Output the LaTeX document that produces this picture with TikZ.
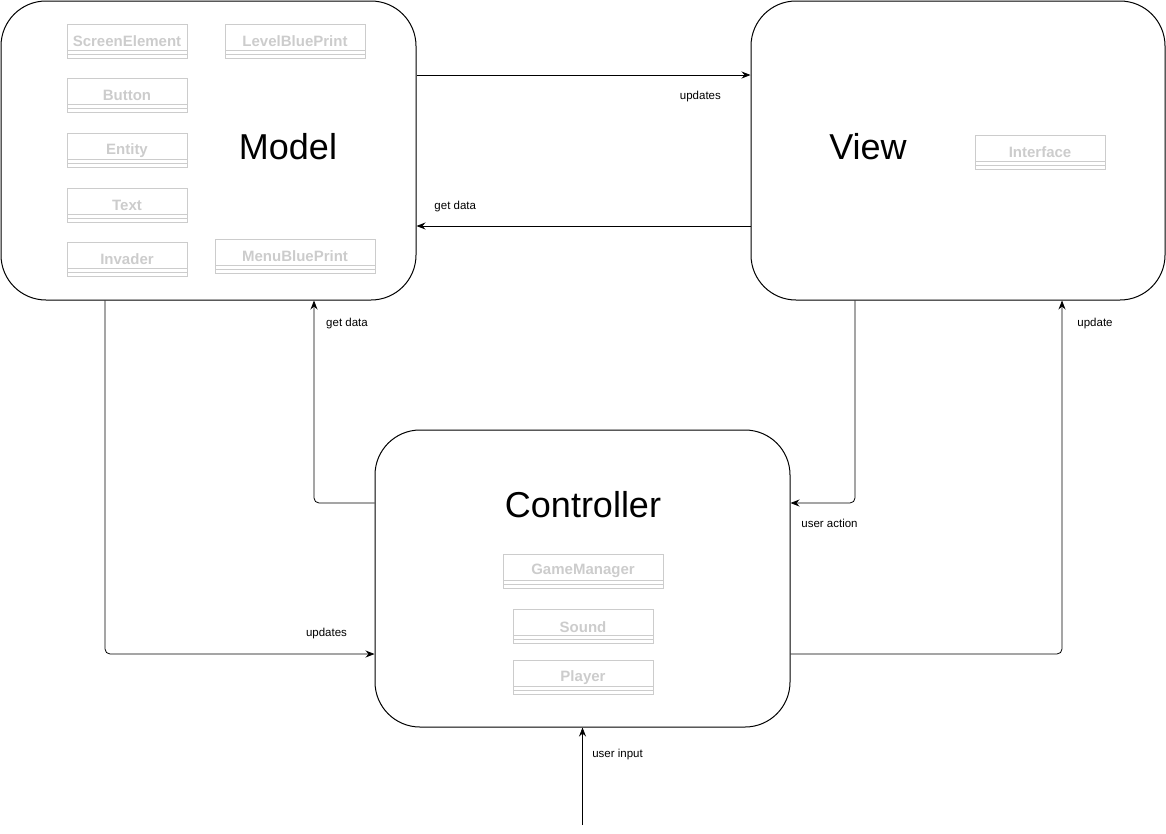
\documentclass[tikz,border=0pt]{standalone}
\usepackage{fontspec}
\setmainfont{Liberation Sans}
\usetikzlibrary{arrows.meta,positioning}

\begin{document}
\begin{tikzpicture}[x=1pt,y=-1pt,
    every node/.style={font=\fontsize{11.5}{13}\selectfont}]
  \tikzstyle{block}=[draw,line width=1pt,rounded corners=45pt,minimum width=415pt,minimum height=299pt,inner sep=0pt]
  \tikzstyle{title}=[font=\fontsize{36}{40}\selectfont,inner sep=0pt]
  \tikzstyle{cls}=[draw=gray!40,text=gray!40,line width=0.8pt,font=\bfseries\fontsize{15}{17}\selectfont,
    minimum height=34pt,inner sep=0pt,
    path picture={\draw[gray!40,line width=0.8pt]
      ([yshift=8pt]path picture bounding box.south west) -- ([yshift=8pt]path picture bounding box.south east)
      ([yshift=4pt]path picture bounding box.south west) -- ([yshift=4pt]path picture bounding box.south east);}]
  \tikzstyle{flow}=[-{Stealth[length=9pt,width=7pt,inset=3pt]},line width=0.8pt,rounded corners=5pt]
  \tikzstyle{lbl}=[inner sep=0pt]
  \useasboundingbox (0,0) rectangle (1166,833);
  % Blocks
  \node[block] (model) at (208.5,150.5) {};
  \node[block,minimum width=414pt] (view) at (958,150.5) {};
  \node[block,minimum height=297pt] (ctrl) at (582.5,578.5) {};
  \node[title] (modeltxt) at (288,147) {Model};
  \node[title] (viewtxt) at (868,147) {View};
  \node[title] (ctrltxt) at (583,505) {Controller};
  % Classes
  \node[cls,minimum width=120pt] (screen) at (127,41) {ScreenElement};
  \node[cls,minimum width=140pt] (level) at (295,41) {LevelBluePrint};
  \node[cls,minimum width=120pt] (button) [below=20pt of screen] {Button};
  \node[cls,minimum width=120pt] (entity) [below=20pt of button] {Entity};
  \node[cls,minimum width=120pt] (text) [below=20pt of entity] {Text};
  \node[cls,minimum width=120pt] (invader) [below=19pt of text] {Invader};
  \node[cls,minimum width=160pt] (menu) at (295,256) {MenuBluePrint};
  \node[cls,minimum width=130pt] (iface) at (1040,152) {Interface};
  \node[cls,minimum width=160pt] (game) at (583,571) {GameManager};
  \node[cls,minimum width=140pt] (sound) [below=21pt of game] {Sound};
  \node[cls,minimum width=140pt] (player) [below=16pt of sound] {Player};
  % Connectors
  \coordinate (input) at (582.5,825);
  \draw[flow] ([yshift=75.5pt]model.east) -- ([yshift=75.5pt]view.west)
    node[lbl,pos=.85,yshift=-22pt] {updates};
  \draw[flow] ([yshift=-75.5pt]view.west) -- ([yshift=-75.5pt]model.east)
    node[lbl,pos=.884,yshift=19pt] {get data};
  \draw[flow] ([yshift=75.5pt]ctrl.west) -| ([xshift=105.5pt]model.south)
    node[lbl,pos=1,xshift=33pt,yshift=-23pt] {get data};
  \draw[flow] ([xshift=-103pt]view.south) |- ([yshift=75.5pt]ctrl.east)
    node[lbl,pos=1,xshift=39pt,yshift=-20pt] {user action};
  \draw[flow] ([xshift=-103.5pt]model.south) |- ([yshift=-75.5pt]ctrl.west)
    node[lbl,pos=1,xshift=-48pt,yshift=20pt] {updates};
  \draw[flow] ([yshift=-75.5pt]ctrl.east) -| ([xshift=104pt]view.south)
    node[lbl,pos=1,xshift=33pt,yshift=-23pt] {update};
  \draw[flow] (input) -- (ctrl.south)
    node[lbl,pos=.724,xshift=35pt] {user input};
\end{tikzpicture}
\end{document}
